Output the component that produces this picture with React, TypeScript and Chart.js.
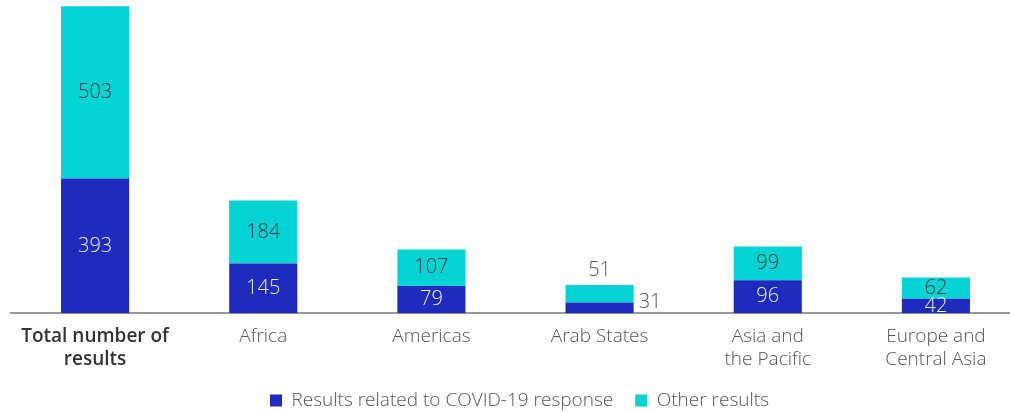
import React, { useEffect, useRef } from "react";
import { Chart, registerables } from "chart.js";

Chart.register(...registerables);

const categories: (string | string[])[] = [
  ["Total number of", "results"],
  "Africa",
  "Americas",
  "Arab States",
  ["Asia and", "the Pacific"],
  ["Europe and", "Central Asia"],
];
const covidResults = [393, 145, 79, 31, 96, 42];
const otherResults = [503, 184, 107, 51, 99, 62];
const seriesNames = ["Results related to COVID-19 response", "Other results"];
const outsideLabels = [false, false, false, true, false, false];

const BLUE = "#1f2bbf";
const CYAN = "#04d3d4";
const FONT = '"Open Sans", sans-serif';

const labelPlugin = {
  id: "valueLabels",
  afterLayout(chart: any) {
    if (chart.legend) {
      chart.legend.left += 4;
      chart.legend.right += 4;
    }
  },
  afterDatasetsDraw(chart: any) {
    const ctx = chart.ctx;
    ctx.save();
    ctx.font = `300 20px ${FONT}`;
    ctx.textBaseline = "middle";
    chart.data.datasets.forEach((ds: any, di: number) => {
      const meta = chart.getDatasetMeta(di);
      meta.data.forEach((bar: any, i: number) => {
        const v = ds.data[i];
        const { x, y, base, width } = bar.getProps(["x", "y", "base", "width"], true);
        let lx = x;
        let ly = (y + base) / 2;
        let color = di === 0 ? "#eeeeff" : "#2f3b3f";
        ctx.textAlign = "center";
        if (outsideLabels[i]) {
          color = "#555555";
          if (di === 0) {
            ctx.textAlign = "left";
            lx = x + width / 2 + 5;
            ly = (y + base) / 2 - 6;
          } else {
            ly = y - 15;
          }
        }
        ctx.fillStyle = color;
        ctx.fillText(String(v), lx, ly);
      });
    });
    ctx.restore();
  },
};

export default function App() {
  const ref = useRef<HTMLCanvasElement>(null);
  useEffect(() => {
    document.body.style.margin = "0";
    document.body.style.overflow = "hidden";
    const chart = new Chart(ref.current!, {
      type: "bar",
      data: {
        labels: categories,
        datasets: [
          { label: seriesNames[0], data: covidResults, backgroundColor: BLUE, barPercentage: 0.81, categoryPercentage: 0.5 },
          { label: seriesNames[1], data: otherResults, backgroundColor: CYAN, barPercentage: 0.81, categoryPercentage: 0.5 },
        ],
      },
      options: {
        animation: false,
        responsive: false,
        maintainAspectRatio: false,
        layout: { padding: { left: 11, right: 2, top: 5, bottom: -8 } },
        plugins: {
          legend: {
            position: "bottom",
            labels: {
              boxWidth: 12,
              boxHeight: 12,
              padding: 22,
              color: "#555555",
              font: { family: FONT, size: 19, weight: "300" },
            },
          },
          tooltip: { enabled: false },
        },
        scales: {
          x: {
            stacked: true,
            grid: { display: false, drawTicks: false },
            border: { display: true, color: "#999999", width: 2 },
            afterFit: (s: any) => {
              s.height -= 14.5;
            },
            ticks: {
              padding: 12,
              maxRotation: 0,
              autoSkip: false,
              font: (c: any) => ({ family: FONT, size: 19, weight: c.index === 0 ? "600" : "300", lineHeight: 1.22 }),
              color: (c: any) => (c.index === 0 ? "#333333" : "#555555"),
            },
          },
          y: {
            stacked: true,
            display: false,
            min: 0,
            max: 900,
          },
        },
      },
      plugins: [labelPlugin],
    });
    return () => chart.destroy();
  }, []);
  return (
    <div style={{ width: 1022, height: 412 }}>
      <canvas ref={ref} width={1022} height={412} style={{ display: "block" }} />
    </div>
  );
}
